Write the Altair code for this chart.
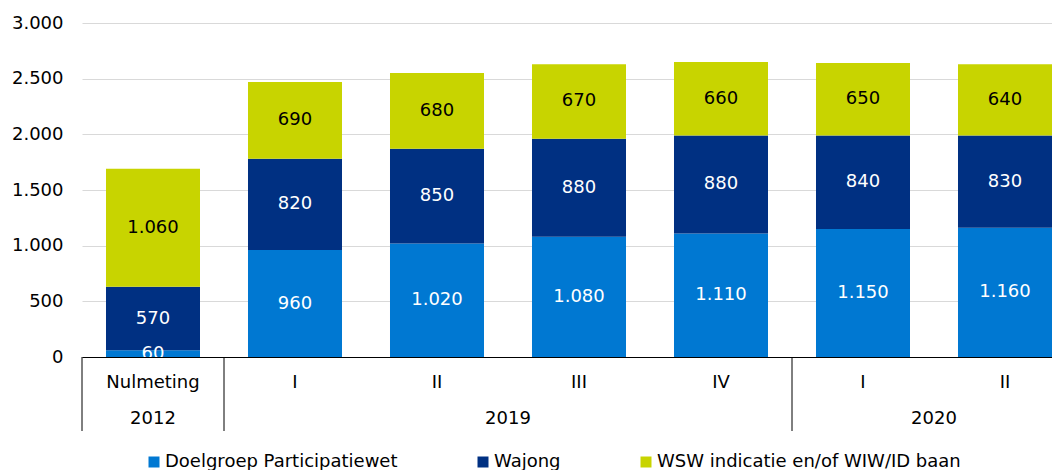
import altair as alt
import pandas as pd

# ---- data ----
periods = ["Nulmeting", "I", "II", "III", "IV", "I", "II"]
series = ["Doelgroep Participatiewet", "Wajong", "WSW indicatie en/of WIW/ID baan"]
doelgroep = [60, 960, 1020, 1080, 1110, 1150, 1160]
wajong = [570, 820, 850, 880, 880, 840, 830]
wsw = [1060, 690, 680, 670, 660, 650, 640]
group_names = ["2012", "2019", "2020"]
group_sizes = [1, 4, 2]
y_ticks = [0, 500, 1000, 1500, 2000, 2500, 3000]

colors = ["#0078D2", "#003082", "#C8D400"]
label_colors = ["#FFFFFF", "#FFFFFF", "#000000"]
FONT = "DejaVu Sans"
FS = 18

keys = [f"{i}|{p}" for i, p in enumerate(periods)]
values = [doelgroep, wajong, wsw]

rows = []
for ci, k in enumerate(keys):
    base = 0
    for si, s in enumerate(series):
        v = values[si][ci]
        rows.append({
            "key": k, "series": s, "order": si,
            "y0": base, "y1": base + v, "mid": base + v / 2,
            "label": f"{v:,}".replace(",", "."),
            "lcolor": label_colors[si],
        })
        base += v
df = pd.DataFrame(rows)

g_rows = []
start = 0
for name, size in zip(group_names, group_sizes):
    g_rows.append({"name": name, "start": start, "end": start + size,
                   "mid": start + size / 2})
    start += size
gdf = pd.DataFrame(g_rows)

n = len(keys)
STEP_RANGE = [0, 994]
xband = alt.Scale(domain=keys, range=STEP_RANGE, paddingInner=0, paddingOuter=0)
xquant = alt.Scale(domain=[0, n], range=STEP_RANGE, nice=False, zero=False)
yscale = alt.Scale(domain=[0, 3000], nice=False)

x_axis = alt.Axis(
    title=None, labelExpr="split(datum.label, '|')[1]", ticks=False,
    domain=True, domainColor="#000000", domainWidth=1, labelFontSize=FS,
    labelFont=FONT, labelColor="#000000", labelPadding=16, labelAngle=0,
    zindex=2,
)
y_axis = alt.Axis(
    title=None, values=y_ticks,
    labelExpr="replace(format(datum.value, ','), ',', '.')",
    domain=False, ticks=False, grid=True, gridColor="#D9D9D9", gridWidth=1,
    labelPadding=19, labelFontSize=FS, labelFont=FONT, labelColor="#000000",
)

bars = alt.Chart(df).mark_bar(width=alt.RelativeBandSize(0.662)).encode(
    x=alt.X("key:N", scale=xband, sort=keys, axis=x_axis),
    y=alt.Y("y0:Q", scale=yscale, axis=y_axis),
    y2="y1:Q",
    color=alt.Color(
        "series:N", scale=alt.Scale(domain=series, range=colors),
        legend=alt.Legend(
            orient="none", legendX=63, legendY=430, direction="horizontal",
            title=None, symbolType="square", symbolSize=121,
            symbolStrokeWidth=0, labelFontSize=FS, labelFont=FONT,
            labelColor="#000000", labelOffset=2, columnPadding=76,
            padding=0, labelLimit=0,
        ),
    ),
)

labels = alt.Chart(df).mark_text(fontSize=FS, font=FONT, clip=True).encode(
    x=alt.X("key:N", scale=xband, sort=keys, axis=None),
    y=alt.Y("mid:Q", scale=yscale),
    text="label:N",
    color=alt.Color("lcolor:N", scale=None),
)

seps = alt.Chart(gdf).mark_rule(color="#000000", strokeWidth=1).encode(
    x=alt.X("start:Q", scale=xquant, axis=None),
    y=alt.value(334), y2=alt.value(408),
)

glabels = alt.Chart(gdf).mark_text(fontSize=FS, font=FONT, color="#000000").encode(
    x=alt.X("mid:Q", scale=xquant, axis=None),
    y=alt.value(396),
    text="name:N",
)

chart = alt.layer(bars, labels, seps, glabels).resolve_scale(
    x="independent", color="independent"
).properties(
    width=970, height=334,
    autosize=alt.AutoSizeParams(type="none"),
    padding={"left": 74, "top": 15, "right": 0, "bottom": 113},
).configure_view(stroke=None)

chart.save("out.html", embed_options={"renderer": "svg", "actions": False})
